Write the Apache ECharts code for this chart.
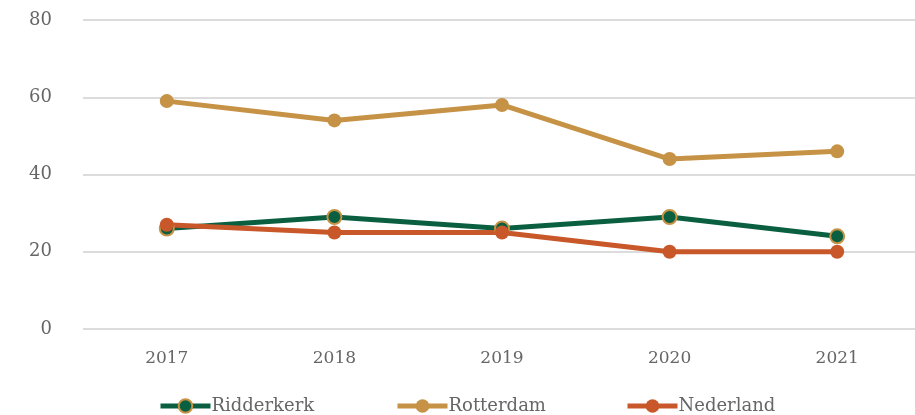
<!DOCTYPE html>
<html>
<head>
<meta charset="utf-8">
<script src="https://cdn.jsdelivr.net/npm/echarts@6/dist/echarts.min.js"></script>
<style>
  html, body { margin: 0; padding: 0; background: #fff; overflow: hidden; }
  #chart { width: 921px; height: 415px; }
</style>
</head>
<body>
<div id="chart"></div>
<script>
const years = ['2017', '2018', '2019', '2020', '2021']
const ridderkerk = [26, 29, 26, 29, 24]
const rotterdam = [59, 54, 58, 44, 46]
const nederland = [27, 25, 25, 20, 20]

const font = 'DejaVu Serif'
const green = '#0b5f41'
const tan = '#c69245'
const orange = '#c8582a'

const myChart = echarts.init(document.getElementById('chart'))

function lineSeries(name, data, color, border) {
    return {
        name: name,
        type: 'line',
        data: data,
        symbol: 'circle',
        symbolSize: 14,
        lineStyle: { width: 5, color: color },
        itemStyle: { color: color, borderColor: border, borderWidth: border === color ? 0 : 2 }
    }
}

function legendAt(name, left) {
    return {
        bottom: -5,
        left: left,
        itemWidth: 50,
        itemHeight: 17,
        itemGap: 0,
        lineStyle: { width: 5 },
        textStyle: { fontFamily: font, fontSize: 18, color: '#666', padding: [0, 0, 0, -4] },
        data: [name]
    }
}

myChart.setOption({
    animation: false,
    grid: { left: 83, right: 0, top: 20, bottom: 86 },
    legend: [
        legendAt('Ridderkerk', 153),
        legendAt('Rotterdam', 390),
        legendAt('Nederland', 620)
    ],
    xAxis: {
        type: 'category',
        data: years,
        axisLine: { show: false },
        axisTick: { show: false },
        axisLabel: { fontFamily: font, fontSize: 17, color: '#666', margin: 21 }
    },
    yAxis: {
        type: 'value',
        min: 0,
        max: 80,
        interval: 20,
        axisLabel: { fontFamily: font, fontSize: 18, color: '#666', margin: 31 },
        splitLine: { lineStyle: { color: '#dcdcdc', width: 2 } }
    },
    series: [
        lineSeries('Ridderkerk', ridderkerk, green, tan),
        lineSeries('Rotterdam', rotterdam, tan, tan),
        lineSeries('Nederland', nederland, orange, orange)
    ]
})
</script>
</body>
</html>
